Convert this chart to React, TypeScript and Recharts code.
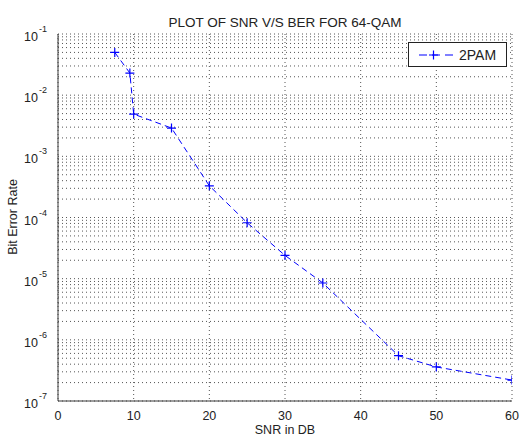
import React from 'react';
import { LineChart, Line, XAxis, YAxis, CartesianGrid, Legend } from 'recharts';

const snrDb = [7.5, 9.5, 10, 15, 20, 25, 30, 35, 45, 50, 60];
const berValues = [0.05, 0.023, 0.0049, 0.0029, 3.3e-4, 8.2e-5, 2.4e-5, 8.5e-6, 5.5e-7, 3.6e-7, 2.2e-7];
const xTicks = [0, 10, 20, 30, 40, 50, 60];
const decades = [-7, -6, -5, -4, -3, -2, -1];
const seriesName = '2PAM';
const titleText = 'PLOT OF SNR V/S BER FOR 64-QAM';
const xLabel = 'SNR in DB';
const yLabel = 'Bit Error Rate';

const yTicks: number[] = [];
decades.forEach((k) => {
  if (k === -1) {
    yTicks.push(Math.pow(10, k));
  } else {
    for (let m = 1; m <= 9; m++) yTicks.push(m * Math.pow(10, k));
  }
});

const data = snrDb.map((s, i) => ({ snr: s, ber: berValues[i] }));

const FONT = '"Liberation Sans", Arial, sans-serif';
const BLUE = '#0000ff';
const AXIS = '#3a3a3a';

const isDecade = (v: number) => {
  const l = Math.log10(v);
  return Math.abs(l - Math.round(l)) < 1e-6;
};

const YTick = (props: any) => {
  const { x, y, payload } = props;
  const v = payload.value;
  if (!isDecade(v)) return null;
  const exp = Math.round(Math.log10(v));
  return (
    <g>
      <text x={x - 12} y={y + 7} textAnchor="end" fontSize={12.5} fontFamily={FONT} fill="#222">
        10
      </text>
      <text x={x - 11} y={y - 2} textAnchor="start" fontSize={9} fontFamily={FONT} fill="#222">
        {String(exp)}
      </text>
    </g>
  );
};

const PlusDot = (props: any) => {
  const { cx, cy, index } = props;
  if (cx == null || cy == null) return null;
  return (
    <path
      key={`d${index}`}
      d={`M${cx - 4.5},${cy}H${cx + 4.5}M${cx},${cy - 4.5}V${cy + 4.5}`}
      stroke={BLUE}
      strokeWidth={1.2}
      fill="none"
    />
  );
};

const LegendBox = () => (
  <div
    style={{
      width: 97,
      height: 23,
      border: '1px solid #222',
      background: '#fff',
      display: 'flex',
      alignItems: 'center',
      fontFamily: FONT,
    }}
  >
    <svg width={48} height={23} style={{ display: 'block' }}>
      <line x1={10} y1={12} x2={48} y2={12} stroke={BLUE} strokeWidth={1.2} strokeDasharray="8 5" />
      <path d="M24.5,7.5V16.5M20,12H29" stroke={BLUE} strokeWidth={1.2} />
    </svg>
    <span style={{ fontSize: 14, color: '#222', marginLeft: 2 }}>{seriesName}</span>
  </div>
);

export default function App() {
  return (
    <div style={{ position: 'absolute', left: 0, top: 0, width: 523, height: 439, background: '#fff' }}>
      <LineChart width={523} height={439} data={data} margin={{ top: 34, right: 11, bottom: 0, left: 0 }}>
        <text x={285} y={27} textAnchor="middle" fontSize={13.5} fontFamily={FONT} fill="#222">
          {titleText}
        </text>
        <text x={285} y={434} textAnchor="middle" fontSize={12.5} fontFamily={FONT} fill="#222">
          {xLabel}
        </text>
        <text
          x={17}
          y={217}
          textAnchor="middle"
          fontSize={12.5}
          fontFamily={FONT}
          fill="#222"
          transform="rotate(-90 17 217)"
        >
          {yLabel}
        </text>
        <CartesianGrid stroke="#555" strokeDasharray="1 3" strokeWidth={1} />
        <XAxis
          dataKey="snr"
          type="number"
          domain={[0, 60]}
          ticks={xTicks}
          allowDataOverflow
          stroke={AXIS}
          tickLine={false}
          tick={{ fontSize: 12.5, fontFamily: FONT, fill: '#222' }}
          tickMargin={4}
          height={38}
        />
        <XAxis
          xAxisId="top"
          dataKey="snr"
          type="number"
          orientation="top"
          domain={[0, 60]}
          ticks={xTicks}
          stroke={AXIS}
          tick={false}
          tickLine={false}
          height={0}
        />
        <YAxis
          dataKey="ber"
          scale="log"
          type="number"
          domain={[1e-7, 1e-1]}
          ticks={yTicks}
          interval={0}
          allowDataOverflow
          stroke={AXIS}
          tickLine={false}
          tick={<YTick />}
          width={58}
        />
        <YAxis
          yAxisId="right"
          orientation="right"
          scale="log"
          type="number"
          domain={[1e-7, 1e-1]}
          stroke={AXIS}
          tick={false}
          tickLine={false}
          width={0}
        />
        <Legend
          layout="vertical"
          verticalAlign="middle"
          align="center"
          content={<LegendBox />}
          wrapperStyle={{ position: 'absolute', left: 408, top: 42, width: 99 }}
        />
        <Line
          type="linear"
          dataKey="ber"
          name={seriesName}
          stroke={BLUE}
          strokeWidth={1}
          strokeDasharray="6 4"
          dot={<PlusDot />}
          activeDot={false}
          isAnimationActive={false}
        />
      </LineChart>
    </div>
  );
}
